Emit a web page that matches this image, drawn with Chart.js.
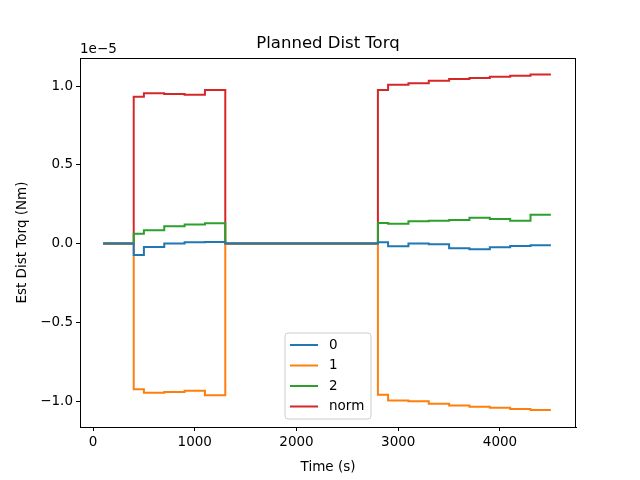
<!DOCTYPE html>
<html>
<head>
<script src="https://cdn.jsdelivr.net/npm/chart.js@4"></script>
<style>body{margin:0;background:#fff}</style>
</head>
<body>
<div style="width:640px;height:480px"><canvas id="c"></canvas></div>
<script>
// sample times (s); each value holds until the next time
const times = [100, 400, 500, 700, 900, 1100, 1300, 2800, 2900, 3100, 3300, 3500, 3700, 3900, 4100, 4300, 4500];
// values in units of 1e-5 Nm
const s0 = [0, -0.073, -0.022, 0, 0.008, 0.01, 0, 0.008, -0.018, 0, -0.005, -0.03, -0.037, -0.024, -0.016, -0.011, -0.011];
const s1 = [0, -0.926, -0.947, -0.943, -0.935, -0.964, 0, -0.96, -0.996, -1.002, -1.017, -1.028, -1.036, -1.043, -1.051, -1.057, -1.057];
const s2 = [0, 0.062, 0.084, 0.109, 0.12, 0.128, 0, 0.13, 0.126, 0.141, 0.145, 0.149, 0.164, 0.156, 0.145, 0.183, 0.183];
const sNorm = [0, 0.932, 0.954, 0.949, 0.945, 0.975, 0, 0.975, 1.008, 1.017, 1.034, 1.044, 1.051, 1.059, 1.065, 1.074, 1.074];
const seriesNames = ["0", "1", "2", "norm"];
const seriesColors = ["#1f77b4", "#ff7f0e", "#2ca02c", "#d62728"];
const xTicks = [0, 1000, 2000, 3000, 4000];
const yTicks = [-1.0, -0.5, 0.0, 0.5, 1.0];

const font = "DejaVu Sans";
const fmt = v => (v < 0 ? "\u2212" : "") + Math.abs(v).toFixed(1);

const datasets = [s0, s1, s2, sNorm].map((vals, i) => ({
  label: seriesNames[i],
  data: times.map((t, j) => ({x: t, y: vals[j]})),
  borderColor: seriesColors[i],
  borderWidth: 2,
  pointRadius: 0,
  stepped: "before",
  fill: false,
}));

const extras = {
  id: "extras",
  afterDraw(chart) {
    const {ctx, chartArea: a} = chart;
    ctx.save();
    ctx.strokeStyle = "#000";
    ctx.lineWidth = 1;
    ctx.strokeRect(a.left + 0.5, a.top + 0.5, a.right - a.left - 1, a.bottom - a.top);
    ctx.fillStyle = "#000";
    ctx.font = "16.5px " + font;
    ctx.textAlign = "center";
    ctx.textBaseline = "bottom";
    ctx.fillText("Planned Dist Torq", (a.left + a.right) / 2, a.top - 6);
    ctx.font = "13.5px " + font;
    ctx.textAlign = "left";
    ctx.fillText("1e\u22125", a.left, a.top - 2);
    // legend
    const lx = 285, ly = 333, lw = 86, lh = 86;
    ctx.fillStyle = "rgba(255,255,255,0.8)";
    ctx.strokeStyle = "#ccc";
    ctx.beginPath();
    ctx.roundRect(lx, ly, lw, lh, 3);
    ctx.fill();
    ctx.stroke();
    ctx.textBaseline = "middle";
    ctx.fillStyle = "#000";
    seriesNames.forEach((n, i) => {
      const yy = ly + 12 + i * 20.5;
      ctx.strokeStyle = seriesColors[i];
      ctx.lineWidth = 2;
      ctx.beginPath();
      ctx.moveTo(lx + 5, yy);
      ctx.lineTo(lx + 33, yy);
      ctx.stroke();
      ctx.fillText(n, lx + 44, yy);
    });
    ctx.restore();
  }
};

new Chart(document.getElementById("c"), {
  type: "line",
  data: {datasets},
  plugins: [extras],
  options: {
    responsive: true,
    maintainAspectRatio: false,
    animation: false,
    layout: {padding: {top: 58, right: 64, left: 0, bottom: 0}},
    plugins: {legend: {display: false}, tooltip: {enabled: false}},
    scales: {
      x: {
        type: "linear",
        min: -128,
        max: 4747,
        afterBuildTicks: s => { s.ticks = xTicks.map(v => ({value: v})); },
        afterFit: s => { s.height = 53; },
        grid: {drawOnChartArea: false, drawTicks: true, tickLength: 4, color: "#000"},
        border: {color: "#000"},
        ticks: {color: "#000", font: {family: font, size: 13.5}, padding: 3, maxRotation: 0, callback: v => String(v)},
        title: {display: true, text: "Time (s)", color: "#000", font: {family: font, size: 13.5}, padding: {top: 2}},
      },
      y: {
        min: -1.165,
        max: 1.178,
        afterBuildTicks: s => { s.ticks = yTicks.map(v => ({value: v})); },
        afterFit: s => { s.width = 80; },
        grid: {drawOnChartArea: false, drawTicks: true, tickLength: 4, color: "#000"},
        border: {color: "#000"},
        ticks: {color: "#000", font: {family: font, size: 13.5}, padding: 3, callback: v => fmt(v)},
        title: {display: true, text: "Est Dist Torq (Nm)", color: "#000", font: {family: font, size: 13.5}, padding: {top: 14, bottom: 4}},
      },
    },
  },
});
</script>
</body>
</html>
